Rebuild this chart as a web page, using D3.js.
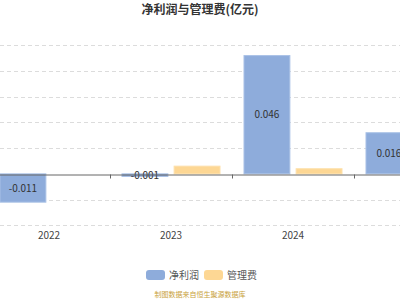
<!DOCTYPE html>
<html>
<head>
<meta charset="utf-8">
<script src="https://cdn.jsdelivr.net/npm/d3@7"></script>
<style>
  body { margin: 0; background: #fff; }
  svg { display: block; font-family: "Noto Sans CJK SC", "Noto Sans", sans-serif; }
</style>
</head>
<body>
<svg width="400" height="300"></svg>
<script>
const years = ['2022', '2023', '2024', '2025']
const netProfit = [-0.011, -0.001, 0.046, 0.016]
const mgmtFee = [0, 0.003, 0.002, 0.002]
const yTicks = [-0.02, -0.01, 0, 0.01, 0.02, 0.03, 0.04, 0.05]
const seriesNames = ['净利润', '管理费']
const colours = ['#8eacdb', '#fdd794']

const svg = d3.select('svg'),
width = +svg.attr('width'),
height = +svg.attr('height')

// plot is wider than the window, so the last year is cut off on the right
const x = d3.scaleBand()
  .domain(years)
  .range([-12, 476])

const inner = d3.scaleBand()
  .domain([0, 1])
  .range([0, x.bandwidth()])
  .paddingInner(0.12)
  .paddingOuter(0.23)

const y = d3.scaleLinear()
  .domain([-0.02, 0.05])
  .range([225.3, 45.3])

// grid
svg.append('g')
  .selectAll('line')
  .data(yTicks.filter(d => d !== 0))
  .enter()
  .append('line')
  .attr('x1', 0)
  .attr('x2', width)
  .attr('y1', d => Math.round(y(d)) + 0.5)
  .attr('y2', d => Math.round(y(d)) + 0.5)
  .attr('stroke', '#dcdcdc')
  .attr('stroke-dasharray', '4,3')

const series = [netProfit, mgmtFee]

series.forEach((vals, i) => {
  svg.append('g')
    .selectAll('rect')
    .data(vals.map((v, j) => ({ year: years[j], v })))
    .enter()
    .filter(d => d.v !== 0)
    .append('rect')
    .attr('x', d => x(d.year) + inner(i))
    .attr('width', inner.bandwidth())
    .attr('y', d => y(Math.max(0, d.v)))
    .attr('height', d => Math.abs(y(d.v) - y(0)))
    .attr('fill', colours[i])
    .attr('stroke', i === 0 ? '#a9c1e6' : '#fde0ab')
    .attr('stroke-width', 1)
})

// value labels on net profit bars
svg.append('g')
  .selectAll('text')
  .data(netProfit.map((v, j) => ({ year: years[j], v })))
  .enter()
  .append('text')
  .attr('x', d => x(d.year) + inner(0) + inner.bandwidth() / 2)
  .attr('y', d => (y(d.v) + y(0)) / 2)
  .attr('dy', '0.35em')
  .attr('text-anchor', 'middle')
  .attr('font-size', 10)
  .attr('fill', '#333')
  .text(d => d.v)

// x axis
const xAxis = svg.append('g')
  .attr('transform', `translate(0,${Math.round(y(0)) + 0.5})`)
  .call(d3.axisBottom(x).tickSize(0).tickPadding(0).tickFormat(''))

xAxis.select('.domain').attr('stroke', '#666')

xAxis.selectAll('.boundary')
  .data(years.slice(1))
  .enter()
  .append('line')
  .attr('x1', d => Math.round(x(d) - x.step() * x.paddingInner() / 2) + 0.5)
  .attr('x2', d => Math.round(x(d)) + 0.5)
  .attr('y1', 0)
  .attr('y2', 4)
  .attr('stroke', '#666')

svg.append('g')
  .selectAll('text')
  .data(years)
  .enter()
  .append('text')
  .attr('x', d => x(d) + x.bandwidth() / 2)
  .attr('y', 239)
  .attr('text-anchor', 'middle')
  .attr('font-size', 10)
  .attr('fill', '#444')
  .text(d => d)

// title
svg.append('text')
  .attr('x', width / 2)
  .attr('y', 14)
  .attr('text-anchor', 'middle')
  .attr('font-size', 12)
  .attr('font-weight', 'bold')
  .attr('fill', '#333')
  .text('净利润与管理费(亿元)')

// legend
const legend = svg.append('g')
  .selectAll('g')
  .data(seriesNames)
  .enter()
  .append('g')
  .attr('transform', (d, i) => `translate(${146 + i * 58},270)`)

legend.append('rect')
  .attr('width', 19)
  .attr('height', 10)
  .attr('rx', 3)
  .attr('fill', (d, i) => colours[i])

legend.append('text')
  .attr('x', 23)
  .attr('y', 5)
  .attr('dy', '0.35em')
  .attr('font-size', 10)
  .attr('fill', '#555')
  .text(d => d)

svg.append('text')
  .attr('x', width / 2)
  .attr('y', 295)
  .attr('dy', '0.35em')
  .attr('text-anchor', 'middle')
  .attr('font-size', 7)
  .attr('fill', '#c9a23c')
  .text('制图数据来自恒生聚源数据库')
</script>
</body>
</html>
